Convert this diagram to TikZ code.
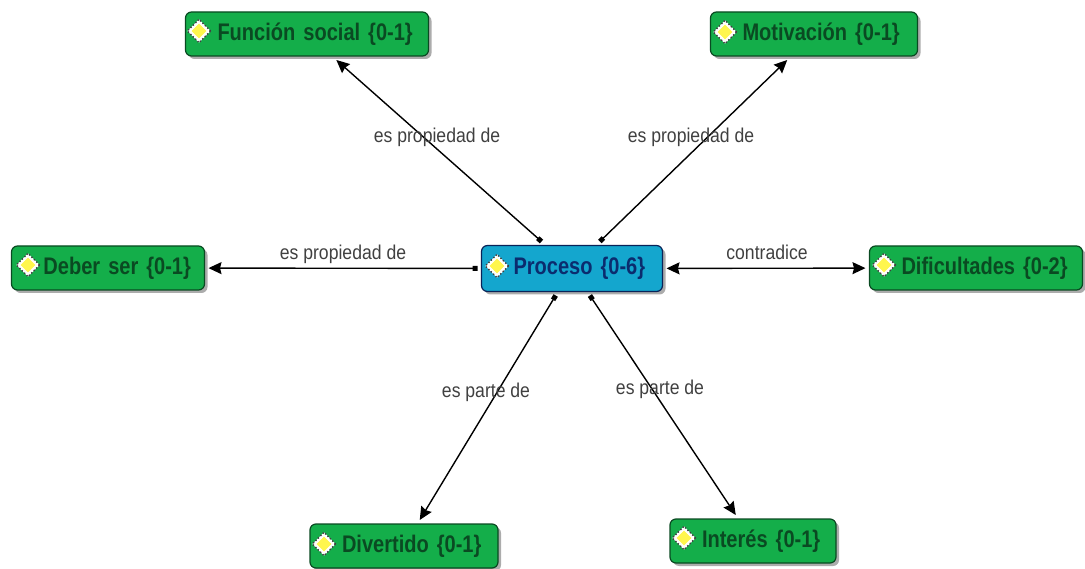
\documentclass[tikz,border=0pt]{standalone}
\usepackage{fontspec}
\setmainfont{Liberation Sans}
\newfontfamily\narrowfont[FakeStretch=0.835]{Liberation Sans}
\newfontfamily\labelfont[FakeStretch=0.88]{Liberation Sans}
\usetikzlibrary{arrows.meta,shapes.geometric,shadows}
\definecolor{verde}{HTML}{14AE4A}
\definecolor{verdeosc}{HTML}{0A4A22}
\definecolor{azul}{HTML}{14A6CE}
\definecolor{azulosc}{HTML}{0B2C6E}
\tikzset{
 concepto/.style={draw=verdeosc, line width=1.2pt, fill=verde, rounded corners=6pt, text=verdeosc,
  font=\narrowfont\bfseries\fontsize{24}{24}\selectfont, minimum height=44pt, inner xsep=0pt, outer sep=4pt, align=left,
  execute at begin node={\hspace*{32pt}}, drop shadow={shadow xshift=3pt, shadow yshift=-3pt, fill=black!65}},
 central/.style={concepto, fill=azul, draw=azulosc!80!black, text=azulosc},
 icono/.style={diamond, fill=yellow!70!white, draw=white, line width=1pt, minimum size=17pt, inner sep=0pt},
 marco/.style={diamond, fill=white, draw=black!75, dotted, line width=1.4pt, minimum size=24pt, inner sep=0pt},
 relacion/.style={text=black!75, font=\labelfont\fontsize{20}{20}\selectfont, inner sep=0pt},
 flecha/.style={draw=black, line width=1.4pt, {Square[length=5pt,width=5pt]}-{Stealth[length=13pt,width=12pt,inset=1.5pt]}},
 doble/.style={draw=black, line width=1.4pt, {Stealth[length=13pt,width=12pt,inset=1.5pt]}-{Stealth[length=13pt,width=12pt,inset=1.5pt]}}
}
\begin{document}
\begin{tikzpicture}[x=1pt,y=-1pt]
 \useasboundingbox (0,0) rectangle (1085,569);

 \node[central, text width=181pt, minimum height=46pt] (proceso) at (572,268.5) {Proceso \{0-6\}};
 \node[concepto, text width=243pt] (funcion) at (307,34) {Función social \{0-1\}};
 \node[concepto, text width=207pt] (motivacion) at (814,34) {Motivación \{0-1\}};
 \node[concepto, text width=193pt] (deber) at (108,268) {Deber ser \{0-1\}};
 \node[concepto, text width=213pt] (dificultades) at (976,268) {Dificultades \{0-2\}};
 \node[concepto, text width=188pt] (divertido) at (404,546) {Divertido \{0-1\}};
 \node[concepto, text width=166pt] (interes) at (753,541) {Interés \{0-1\}};

 \foreach \name/\x/\y in {proceso/497/266, funcion/199/31, motivacion/725/32, deber/28/265, dificultades/884/265, divertido/324/544, interes/684/538}{
  \node[marco] (marco\name) at (\x,\y) {};
  \node[icono] (icono\name) at (\x,\y) {};
 }

 \draw[flecha] (proceso) -- (funcion);
 \draw[flecha] (proceso) -- (motivacion);
 \draw[flecha] (proceso) -- (deber);
 \draw[flecha] (proceso) -- (divertido);
 \draw[flecha] (proceso) -- (interes);
 \draw[doble] (proceso) -- (dificultades);

 \node[relacion] (r1) at (437,137) {es propiedad de};
 \node[relacion] (r2) at (691,137) {es propiedad de};
 \node[relacion] (r3) at (343,254) {es propiedad de};
 \node[relacion] (r4) at (767,252) {contradice};
 \node[relacion] (r5) at (486,392) {es parte de};
 \node[relacion] (r6) at (660,389) {es parte de};
\end{tikzpicture}
\end{document}
